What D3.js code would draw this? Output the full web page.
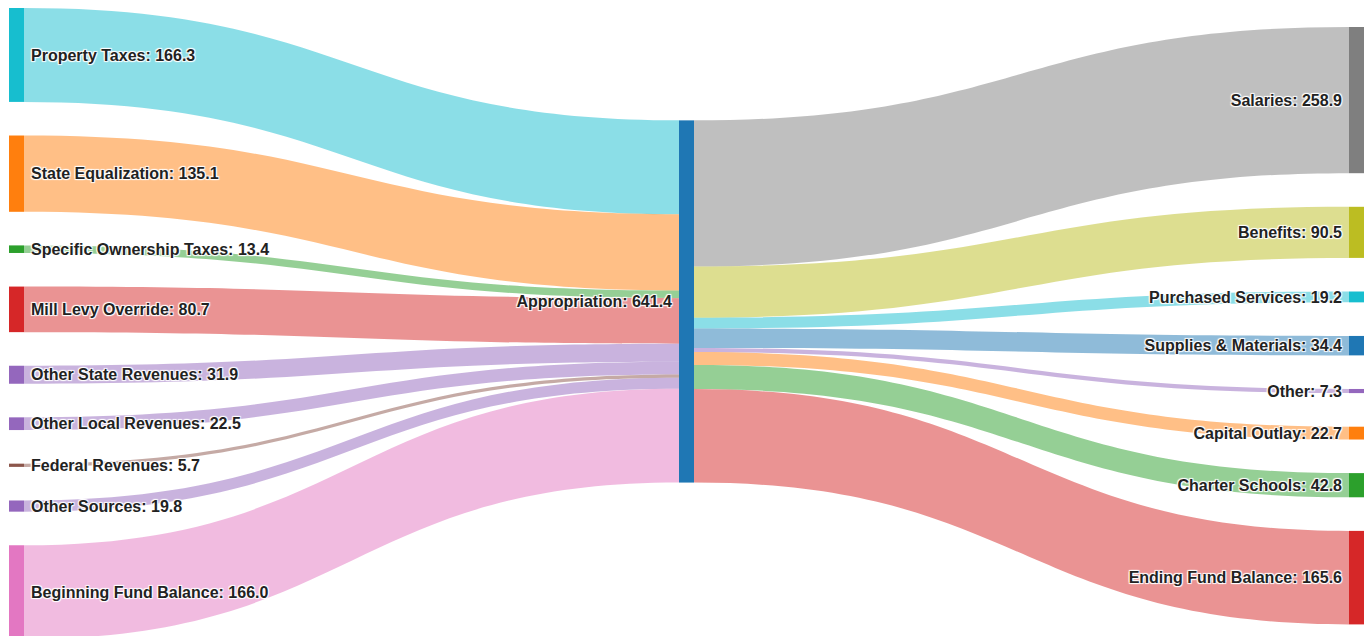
<!DOCTYPE html>
<html>
<head>
<meta charset="utf-8">
<script src="https://cdn.jsdelivr.net/npm/d3@7"></script>
<style>
  html, body { margin: 0; padding: 0; background: #fff; }
  svg { display: block; }
  .label {
    font-family: "Liberation Sans", Arial, sans-serif;
    font-weight: bold;
    font-size: 16px;
    fill: #222;
    text-shadow: 1px 1px 1px #fff, -1px -1px 1px #fff, 1px -1px 1px #fff, -1px 1px 1px #fff;
  }
</style>
</head>
<body>
<script>
// Revenue sources flowing into the appropriation (millions)
const sourceNames  = ["Property Taxes", "State Equalization", "Specific Ownership Taxes", "Mill Levy Override",
                      "Other State Revenues", "Other Local Revenues", "Federal Revenues", "Other Sources",
                      "Beginning Fund Balance"];
const sourceValues = [166.3, 135.1, 13.4, 80.7, 31.9, 22.5, 5.7, 19.8, 166.0];

// Central node
const hubName = "Appropriation";

// Uses of the appropriation (millions)
const useNames  = ["Salaries", "Benefits", "Purchased Services", "Supplies & Materials", "Other",
                   "Capital Outlay", "Charter Schools", "Ending Fund Balance"];
const useValues = [258.9, 90.5, 19.2, 34.4, 7.3, 22.7, 42.8, 165.6];

// Node colours
const sourceColors = ["#17becf", "#ff7f0e", "#2ca02c", "#d62728", "#9467bd", "#9467bd", "#8c564b", "#9467bd", "#e377c2"];
const hubColor = "#1f77b4";
const useColors = ["#7f7f7f", "#bcbd22", "#17becf", "#1f77b4", "#9467bd", "#ff7f0e", "#2ca02c", "#d62728"];

// ---- layout ----
const W = 1367, H = 636;
const nodeWidth = 15;
const nodePadding = 33.6;
const extent = [8, 639];          // vertical extent of the densest column
const columnTop = [8, null, 27];  // null: placed at the weighted centre of its inputs
const fmt = d3.format(".1f");

const hubValue = d3.sum(sourceValues);

const columns = [
  sourceNames.map((n, i) => ({ name: n, value: sourceValues[i], color: sourceColors[i] })),
  [{ name: hubName, value: hubValue, color: hubColor }],
  useNames.map((n, i) => ({ name: n, value: useValues[i], color: useColors[i] }))
];

const x = d3.scalePoint().domain([0, 1, 2]).range([9, W - 18]);
const maxCount = d3.max(columns, c => c.length);
const ky = (extent[1] - extent[0] - (maxCount - 1) * nodePadding) / hubValue;
const hScale = d3.scaleLinear().domain([0, hubValue]).range([0, hubValue * ky]);

// stack nodes in the outer columns
[0, 2].forEach(ci => {
  let y = columnTop[ci];
  columns[ci].forEach(n => {
    n.x0 = x(ci); n.x1 = n.x0 + nodeWidth;
    n.y0 = y; n.y1 = y + hScale(n.value);
    y = n.y1 + nodePadding;
  });
});

// hub sits at the value-weighted centre of its sources
const hub = columns[1][0];
const hubCenter = d3.sum(columns[0], n => n.value * (n.y0 + n.y1) / 2) / hubValue;
hub.x0 = x(1); hub.x1 = hub.x0 + nodeWidth;
hub.y0 = hubCenter - hScale(hubValue) / 2;
hub.y1 = hub.y0 + hScale(hubValue);

// links: sources -> hub, hub -> uses, stacked in order on the hub
const links = [];
let yIn = hub.y0;
columns[0].forEach(s => {
  const w = hScale(s.value);
  links.push({ x0: s.x1, y0: s.y0, x1: hub.x0, y1: yIn, w, color: s.color });
  yIn += w;
});
let yOut = hub.y0;
columns[2].forEach(t => {
  const w = hScale(t.value);
  links.push({ x0: hub.x1, y0: yOut, x1: t.x0, y1: t.y0, w, color: t.color });
  yOut += w;
});

function ribbon(l) {
  const xi = d3.interpolateNumber(l.x0, l.x1);
  const c0 = xi(0.5), c1 = xi(0.5);
  const p = d3.path();
  p.moveTo(l.x0, l.y0);
  p.bezierCurveTo(c0, l.y0, c1, l.y1, l.x1, l.y1);
  p.lineTo(l.x1, l.y1 + l.w);
  p.bezierCurveTo(c1, l.y1 + l.w, c0, l.y0 + l.w, l.x0, l.y0 + l.w);
  p.closePath();
  return p.toString();
}

const svg = d3.select("body").append("svg").attr("width", W).attr("height", H);

svg.append("g").selectAll("path")
  .data(links)
  .join("path")
  .attr("d", ribbon)
  .attr("fill", d => d.color)
  .attr("fill-opacity", 0.5);

const allNodes = columns.flat();
svg.append("g").selectAll("rect")
  .data(allNodes)
  .join("rect")
  .attr("x", d => d.x0)
  .attr("y", d => d.y0)
  .attr("width", d => d.x1 - d.x0)
  .attr("height", d => Math.max(1, d.y1 - d.y0))
  .attr("fill", d => d.color);

const labelGap = 7;
svg.append("g").selectAll("text")
  .data(allNodes)
  .join("text")
  .attr("class", "label")
  .attr("x", d => d.x0 < W / 4 ? d.x1 + labelGap : d.x0 - labelGap)
  .attr("y", d => (d.y0 + d.y1) / 2)
  .attr("dy", "0.35em")
  .attr("text-anchor", d => d.x0 < W / 4 ? "start" : "end")
  .text(d => `${d.name}: ${fmt(d.value)}`);
</script>
</body>
</html>
